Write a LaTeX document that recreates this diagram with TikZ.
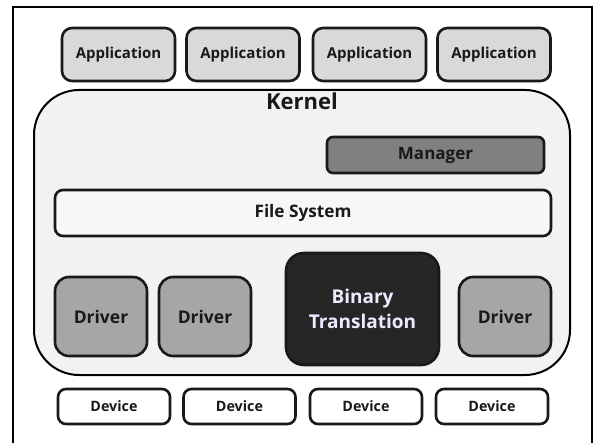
\documentclass[tikz,border=0pt]{standalone}
\usepackage{fontspec}
\setmainfont{Open Sans}
\begin{document}
\begin{tikzpicture}[x={(1pt,0)}, y={(0,-1pt)},
  box/.style={draw=black!90, line width=2.6pt, inner sep=0pt, font=\bfseries, text=black!90},
  appbox/.style={box, fill=black!15, rounded corners=10pt, minimum width=113pt, minimum height=53pt, font=\bfseries\fontsize{15}{17}\selectfont},
  drvbox/.style={box, fill=black!35, rounded corners=14pt, minimum width=92pt, minimum height=79pt, font=\bfseries\fontsize{17.5}{20}\selectfont},
  devbox/.style={box, fill=white, rounded corners=8pt, minimum width=112pt, minimum height=35pt, font=\bfseries\fontsize{14.3}{16}\selectfont},
]
\useasboundingbox (0,0) rectangle (594,443);
\fill[white] (0,0) rectangle (594,443);
% outer frame (open at the bottom)
\draw[line width=2pt] (13,443) -- (13,7) -- (592,7) -- (592,443);

% applications
\node[appbox] (app1) at (118.5,54.5) {Application};
\node[appbox] (app2) at (243,54.5) {Application};
\node[appbox] (app3) at (369.5,54.5) {Application};
\node[appbox] (app4) at (494,54.5) {Application};

% kernel
\node[draw=black, line width=2pt, fill=black!5, rounded corners=45pt,
      minimum width=536pt, minimum height=285pt, inner sep=0pt] (kernel) at (302,232.5) {};
\node[anchor=north, font=\bfseries\fontsize{22}{25}\selectfont, text=black!90, inner sep=0pt] (klabel) at ([yshift=-4pt]kernel.north) {Kernel};

\node[box, fill=black!50, rounded corners=6pt, minimum width=217pt, minimum height=36pt,
      font=\bfseries\fontsize{17}{19}\selectfont] (mgr) at (435.5,155) {Manager};
\node[box, fill=black!3, rounded corners=8pt, minimum width=496pt, minimum height=46pt,
      font=\bfseries\fontsize{17.2}{20}\selectfont] (fs) at (303,213) {File System};

\node[drvbox] (drv1) at (101,316.5) {Driver};
\node[drvbox] (drv2) at (205,316.5) {Driver};
\node[box, fill=black!85, rounded corners=18pt, minimum width=153pt, minimum height=112pt,
      text=blue!8!white, align=center, font=\bfseries\fontsize{19}{25}\selectfont] (bt) at (362.5,309) {Binary\\Translation};
\node[drvbox] (drv3) at (505,316.5) {Driver};

% devices
\node[devbox] (dev1) at (114,406.5) {Device};
\node[devbox] (dev2) at (239.5,406.5) {Device};
\node[devbox] (dev3) at (366,406.5) {Device};
\node[devbox] (dev4) at (492,406.5) {Device};
\end{tikzpicture}
\end{document}
